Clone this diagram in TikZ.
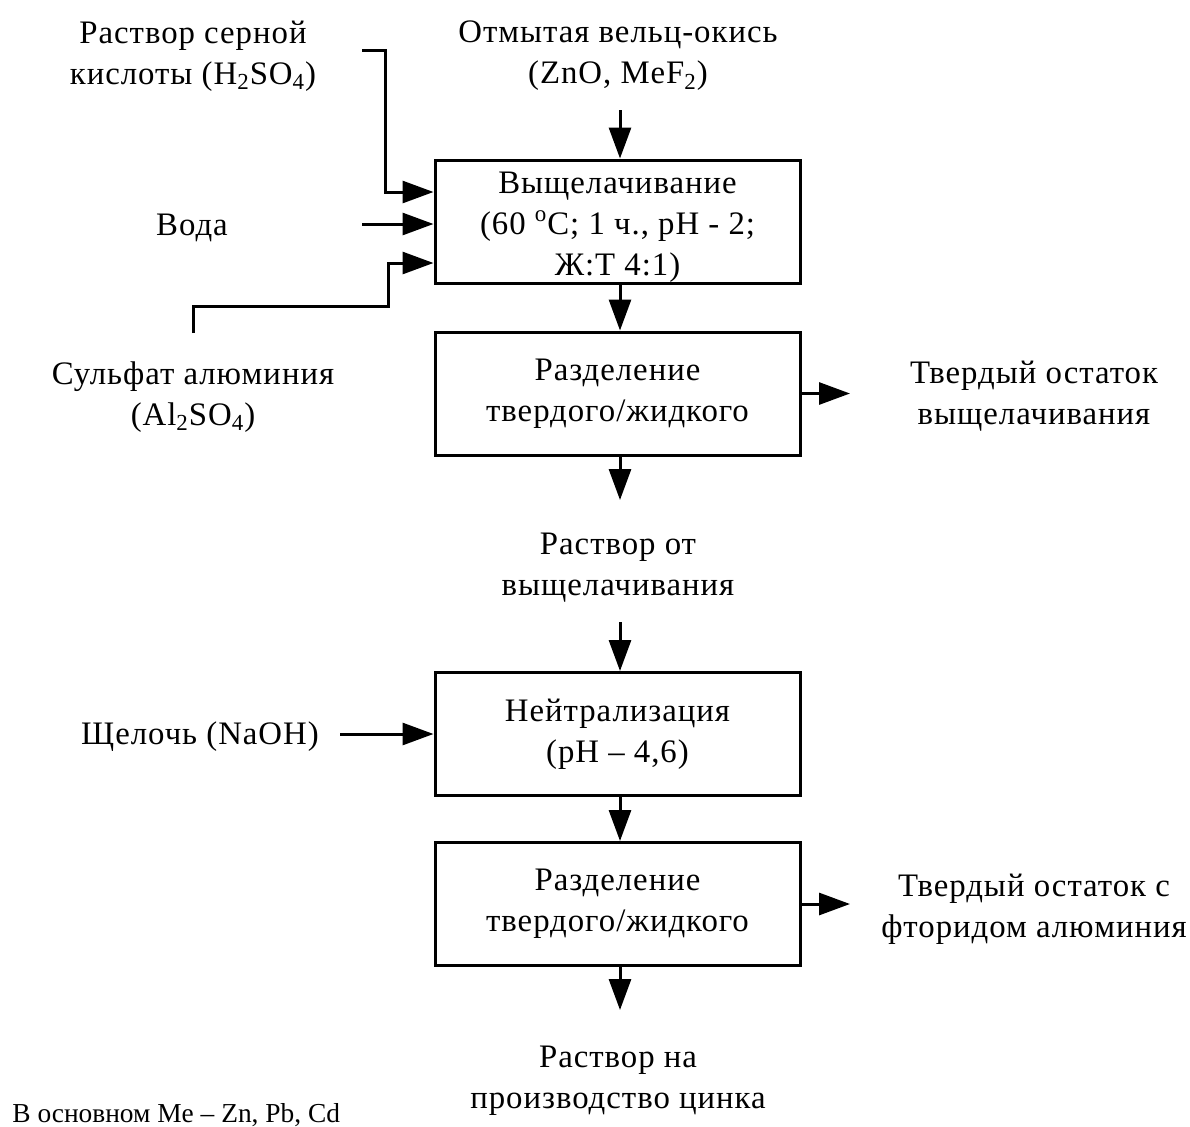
\documentclass[tikz,border=0pt]{standalone}
\usepackage{fontspec}
\setmainfont[LetterSpace=3]{Liberation Serif}
\newfontfamily\notefont{Liberation Serif}
\usetikzlibrary{arrows.meta}
\tikzset{
  stage/.style={draw=black, line width=1.5pt, minimum width=182.5pt, minimum height=61.5pt, align=center, inner sep=0pt},
  flowtext/.style={align=center, inner sep=0pt},
  flow/.style={line width=1.5pt, draw=black, -{Triangle[length=15.5pt,width=11pt]}},
}
\begin{document}
\begin{tikzpicture}[x=0.5pt, y=-0.5pt, font=\fontsize{16.4}{20.5}\selectfont]
\useasboundingbox (0,0) rectangle (1190,1126);
% process boxes
\node[stage] (leach) at (617.5,221.5) {\\[-4pt]Выщелачивание\\(60 \textsuperscript{o}C; 1 ч., pH - 2;\\Ж:Т 4:1)};
\node[stage] (sep1) at (617.5,393.5) {Разделение\\твердого/жидкого};
\node[stage] (neutr) at (617.5,734) {Нейтрализация\\(pH – 4,6)};
\node[stage] (sep2) at (617.5,904) {Разделение\\твердого/жидкого};
% feeds and products
\node[flowtext] (oxide) at (618,56) {Отмытая вельц-окись\\(ZnO, MeF\textsubscript{2})};
\node[flowtext] (acid) at (193,56) {Раствор серной\\кислоты (H\textsubscript{2}SO\textsubscript{4})};
\node[flowtext] (water) at (192,228) {Вода};
\node[flowtext] (alum) at (193,397) {Сульфат алюминия\\(Al\textsubscript{2}SO\textsubscript{4})};
\node[flowtext] (resid1) at (1034,396) {Твердый остаток\\выщелачивания};
\node[flowtext] (liquor) at (618,568) {Раствор от\\выщелачивания};
\node[flowtext] (alkali) at (200,737) {Щелочь (NaOH)};
\node[flowtext] (resid2) at (1034,909) {Твердый остаток с\\фторидом алюминия};
\node[flowtext] (product) at (618,1081) {Раствор на\\производство цинка};
\node[flowtext, anchor=west, font=\notefont\fontsize{13.7}{15}\selectfont] (note) at (12,1115) {В основном Me – Zn, Pb, Cd};
% free ends
\coordinate (oxideout) at (620,110);
\coordinate (acidout) at (362,50);
\coordinate (waterout) at (362,224);
\coordinate (alumout) at (193,333);
\coordinate (sep1down) at (620,500);
\coordinate (liquorout) at (620,622);
\coordinate (sep1right) at (850,393.5);
\coordinate (alkaliout) at (340,734);
\coordinate (sep2right) at (850,904);
\coordinate (sep2down) at (620,1010);
% connectors
\draw[flow] (oxideout) -- (oxideout |- leach.north);
\draw[flow] (acidout) -- (385,50) |- ([yshift=14.75pt]leach.west);
\draw[flow] (waterout) -- (waterout -| leach.west);
\draw[flow] (alumout) |- (388,306) |- ([yshift=-20.75pt]leach.west);
\draw[flow] (leach.south -| oxideout) -- (sep1.north -| oxideout);
\draw[flow] (sep1.east) -- (sep1right);
\draw[flow] (sep1.south -| sep1down) -- (sep1down);
\draw[flow] (liquorout) -- (liquorout |- neutr.north);
\draw[flow] (alkaliout) -- (alkaliout -| neutr.west);
\draw[flow] (neutr.south -| oxideout) -- (sep2.north -| oxideout);
\draw[flow] (sep2.east) -- (sep2right);
\draw[flow] (sep2.south -| sep2down) -- (sep2down);
\end{tikzpicture}
\end{document}
